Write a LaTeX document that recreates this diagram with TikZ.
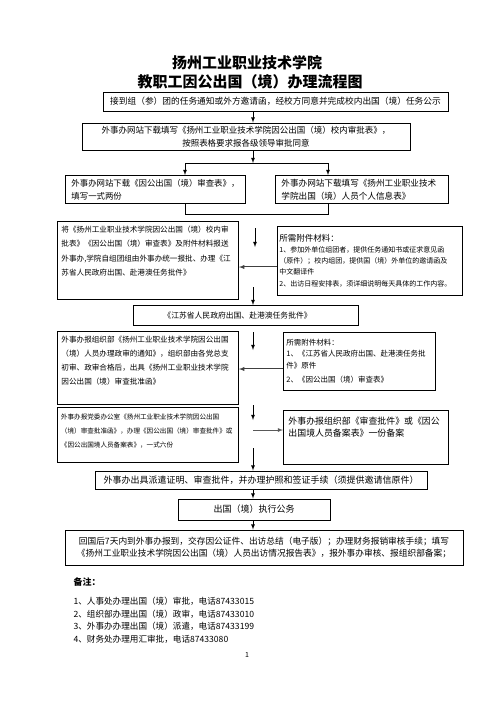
\documentclass[tikz,border=0pt]{standalone}
\usepackage{fontspec}
\setmainfont{Noto Sans CJK SC}
\XeTeXlinebreaklocale "zh"
\usepackage{tikz}
\usetikzlibrary{positioning,arrows,calc}

\begin{document}
\begin{tikzpicture}[x=1pt,y=-1pt,
		box/.style={rectangle,draw,line width=0.9pt,inner sep=3pt},
		topbox/.style={box,anchor=north west,align=left},
		arr/.style={->,>=latex,line width=0.8pt},
		dbl/.style={->,>=latex,double,double distance=0.9pt,line width=0.6pt,draw=black!75}]
		\useasboundingbox (0,0) rectangle (496,702);
		\node[font=\fontsize{15}{18}\selectfont\bfseries] (title1) at (247,63) {扬州工业职业技术学院};
		\node[font=\fontsize{15}{18}\selectfont\bfseries] (title2) at (250,82) {教职工因公出国（境）办理流程图};
		\coordinate (spine) at (253,0);
		\node[box,minimum width=345pt,minimum height=19pt,inner sep=1pt,font=\fontsize{8.7}{10}\selectfont] (notice) at (275.5,101.5)
			{接到组（参）团的任务通知或外方邀请函，经校方同意并完成校内出国（境）任务公示};
		\node[box,minimum width=328pt,minimum height=27pt,align=center,font=\fontsize{8.5}{13}\selectfont] (form) at (246,136.5)
			{外事办网站下载填写《扬州工业职业技术学院因公出国（境）校内审批表》，\\按照表格要求报各级领导审批同意};
		\node[topbox,text width=168pt,inner xsep=6pt,minimum height=28pt,font=\fontsize{8.4}{13}\selectfont] (dlform) at (65,175)
			{外事办网站下载《因公出国（境）审查表》，\\填写一式两份};
		\node[topbox,text width=161pt,inner xsep=6pt,minimum height=28pt,font=\fontsize{8.6}{13}\selectfont] (info) at (275,175)
			{外事办网站下载填写《扬州工业职业技术\\学院出国（境）人员个人信息表》};
		\node[topbox,text width=173pt,inner xsep=4pt,text height=8pt,text depth=64pt,font=\fontsize{7.6}{14.5}\selectfont] (submit) at (57,221)
			{将《扬州工业职业技术学院因公出国（境）校内审\\批表》《因公出国（境）审查表》及附件材料报送\\外事办,学院自组团组由外事办统一报批、办理《江\\苏省人民政府出国、赴港澳任务批件》};
		\node[topbox,text width=181pt,inner xsep=2pt,minimum height=69pt,font=\fontsize{7}{11}\selectfont] (need) at (277,226)
			{{\fontsize{8.5}{11}\selectfont 所需附件材料：}\\1、参加外单位组团者，提供任务通知书或征求意见函\\（原件）；校内组团，提供国（境）外单位的邀请函及\\中文翻译件\\[1pt]2、出访日程安排表，须详细说明每天具体的工作内容。};
		\node[topbox,text width=219pt,minimum height=20pt,font=\fontsize{7.8}{10}\selectfont] (jsbox) at (133,305)
			{\hspace*{27pt}《江苏省人民政府出国、赴港澳任务批件》};
		\node[topbox,text width=173pt,inner xsep=4pt,text height=8pt,text depth=59pt,font=\fontsize{7.6}{14}\selectfont] (approve) at (57,331)
			{外事办报组织部《扬州工业职业技术学院因公出国\\（境）人员办理政审的通知》，组织部由各党总支\\初审、政审合格后，出具《扬州工业职业技术学院\\因公出国（境）审查批准函》};
		\node[topbox,text width=146pt,minimum height=58pt,font=\fontsize{7.5}{11.5}\selectfont] (need2) at (283,332)
			{所需附件材料：\\1、《江苏省人民政府出国、赴港澳任务批\\件》原件\\[3pt]2、《因公出国（境）审查表》};
		\node[topbox,text width=174pt,inner xsep=3.5pt,text height=9.5pt,text depth=39.5pt,font=\fontsize{6.6}{14}\selectfont] (party) at (57,407)
			{外事办报党委办公室《扬州工业职业技术学院因公出国\\（境）审查批准函》，办理《因公出国（境）审查批件》或\\《因公出国境人员备案表》，一式六份};
		\node[topbox,text width=155pt,inner xsep=5pt,text height=11pt,text depth=37pt,font=\fontsize{8.9}{12.5}\selectfont] (file) at (283,410)
			{外事办报组织部《审查批件》或《因公\\出国境人员备案表》一份备案};
		\node[box,minimum width=332pt,minimum height=18pt,inner sep=1pt,font=\fontsize{9}{10}\selectfont] (visa) at (261,480)
			{外事办出具派遣证明、审查批件，并办理护照和签证手续（须提供邀请信原件）};
		\node[box,minimum width=152pt,minimum height=21pt,font=\fontsize{9}{10}\selectfont] (trip) at (254,509.5) {出国（境）执行公务};
		\node[box,minimum width=398pt,minimum height=35pt,inner sep=1pt,align=center,font=\fontsize{8.7}{12}\selectfont] (report) at (264,547.5)
			{回国后7天内到外事办报到，交存因公证件、出访总结（电子版）；办理财务报销审核手续；填写\\《扬州工业职业技术学院因公出国（境）人员出访情况报告表》，报外事办审核、报组织部备案；};
		\node[anchor=west,font=\fontsize{9}{10}\selectfont\bfseries] (notehd) at (70,582) {备注：};
		\node[anchor=north west,align=left,text width=220pt,text height=7pt,font=\fontsize{8.6}{12.7}\selectfont] (notes) at (70,594)
			{1、人事处办理出国（境）审批，电话87433015\\2、组织部办理出国（境）政审，电话87433010\\3、外事办办理出国（境）派遣，电话87433199\\4、财务处办理用汇审批，电话87433080};
		\node[font=\fontsize{7}{8}\selectfont] (pgno) at (247,655) {1};
		\coordinate (forkL) at (185,163);
		\coordinate (forkR) at (328,163);
		\coordinate (join) at (0,214);
		\coordinate (gapA) at (255,228);
		\coordinate (gapB) at (255,247);
		\coordinate (dblA) at (0,267);
		\coordinate (gapC) at (253,287);
		\coordinate (gapD) at (253,332);
		\coordinate (gapE) at (253,350);
		\coordinate (dblB) at (0,369);
		\coordinate (gapF) at (253,405);
		\coordinate (gapG) at (253,420);
		\coordinate (sideA) at (253,430);
		\coordinate (gapH) at (253,448);
		\draw[arr] (notice.south -| spine) -- (form.north -| spine);
		\draw[arr] (form.south -| spine) -- (spine |- forkL);
		\draw[line width=0.8pt] (forkL) -- (forkR);
		\draw[arr] (forkL) -- (dlform.north -| forkL);
		\draw[arr] (forkR) -- (info.north -| forkR);
		\draw[line width=0.8pt] (dlform.south -| forkL) -- (forkL |- join) -- (forkR |- join) -- (info.south -| forkR);
		\draw[arr] (gapA) -- (gapB);
		\draw[dbl] (need.west |- dblA) -- (submit.east |- dblA);
		\draw[arr] (gapC) -- (jsbox.north -| gapC);
		\draw[arr] (gapD) -- (gapE);
		\draw[dbl] (need2.west |- dblB) -- (approve.east |- dblB);
		\draw[arr] (gapF) -- (gapG);
		\draw[arr,draw=black!65] (sideA) -- (file.west |- sideA);
		\draw[arr] (gapH) -- (visa.north -| gapH);
		\draw[arr] (visa.south -| spine) -- (trip.north -| spine);
		\draw[arr] (trip.south -| spine) -- (report.north -| spine);
	\end{tikzpicture}
\end{document}
